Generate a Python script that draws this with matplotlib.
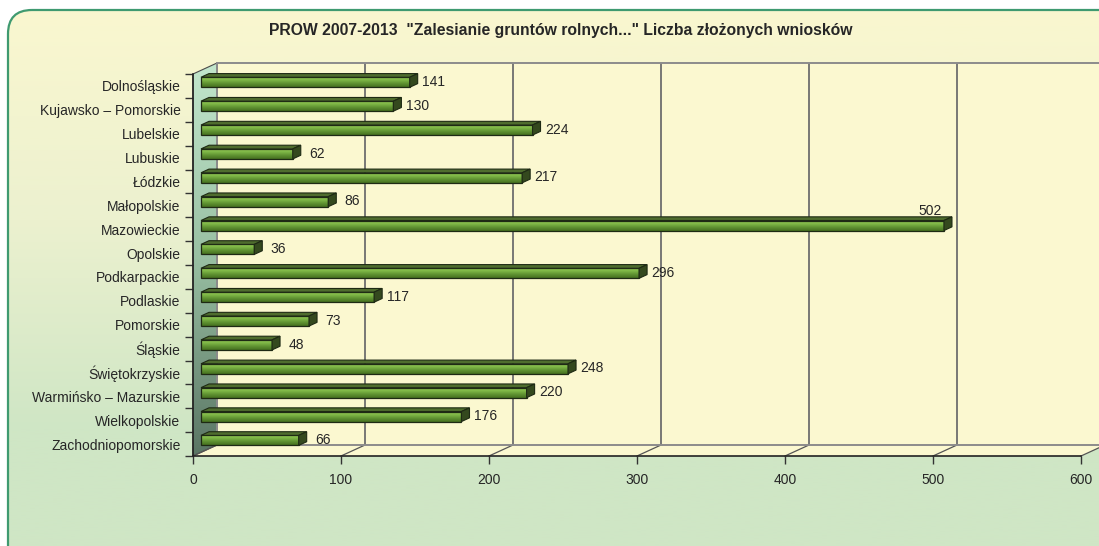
import numpy as np
import matplotlib
matplotlib.use("Agg")
import matplotlib.pyplot as plt
from matplotlib.patches import Polygon, FancyBboxPatch
from matplotlib.transforms import ScaledTranslation, IdentityTransform
from matplotlib.colors import LinearSegmentedColormap

# --- data -------------------------------------------------------------
regions = ["Dolnośląskie", "Kujawsko – Pomorskie", "Lubelskie", "Lubuskie",
           "Łódzkie", "Małopolskie", "Mazowieckie", "Opolskie", "Podkarpackie",
           "Podlaskie", "Pomorskie", "Śląskie", "Świętokrzyskie",
           "Warmińsko – Mazurskie", "Wielkopolskie", "Zachodniopomorskie"]
wnioski = [141, 130, 224, 62, 217, 86, 502, 36, 296, 117, 73, 48, 248, 220, 176, 66]
x_ticks = [0, 100, 200, 300, 400, 500, 600]
title = 'PROW 2007-2013  "Zalesianie gruntów rolnych..." Liczba złożonych wniosków'

plt.rcParams['font.family'] = ['Liberation Sans', 'DejaVu Sans']
FS = 10

W, H, DPI = 1099, 546, 100
L, R, T, B = 193, 1081, 74, 456      # front plane of the plot (pixels)
DX, DY = 24, 11                      # 3d depth offset
TXT = '#262626'

fig = plt.figure(figsize=(W / DPI, H / DPI), dpi=DPI)

# --- background canvas (pixel coords) -------------------------------
bg = fig.add_axes([0, 0, 1, 1], zorder=0)
bg.set_xlim(0, W)
bg.set_ylim(H, 0)
bg.axis('off')

frame = FancyBboxPatch((8, 10), W + 60, H + 60,
                       boxstyle="round,pad=0,rounding_size=24",
                       fc='none', ec='#3f9a70', lw=1.6, zorder=5)
bg.add_patch(frame)
yy = np.linspace(10, H + 70, 400)
grad = np.clip((yy - 10) / 420, 0, 1)[:, None]
cm_bg = LinearSegmentedColormap.from_list('bg', ['#faf7cf', '#ecf1cf', '#cfe6c5'])
im = bg.imshow(grad, cmap=cm_bg, extent=(8, W + 70, H + 70, 10),
               aspect='auto', origin='upper', zorder=1)
im.set_clip_path(frame)

# left side wall
side = Polygon([(L, T), (L + DX, T - DY), (L + DX, B - DY), (L, B)],
               closed=True, fc='none', ec='#4a4a4a', lw=0.8, zorder=3)
bg.add_patch(side)
cm_side = LinearSegmentedColormap.from_list('side', ['#c2e6cc', '#98bfa2', '#5a7564'])
sim = bg.imshow(np.linspace(0, 1, 200)[:, None], cmap=cm_side,
                extent=(L, L + DX, B, T - DY), aspect='auto', zorder=2)
sim.set_clip_path(side)

# floor
floor = Polygon([(L, B), (R, B), (R + DX, B - DY), (L + DX, B - DY)],
                closed=True, fc='#fbf8d0', ec='none', zorder=2)
bg.add_patch(floor)

fig.text(561 / W, 1 - 31 / H, title, ha='center', va='center',
         fontsize=11.3, weight='bold', color=TXT)

# --- back wall -------------------------------------------------------
wall = fig.add_axes([(L + DX) / W, 1 - (B - DY) / H, (R - L) / W, (B - T) / H],
                    zorder=1)
wall.set_facecolor('#fbf8d0')
wall.set_xlim(0, 600)
wall.set_xticks(x_ticks)
wall.set_yticks([])
wall.tick_params(length=0, labelbottom=False)
wall.grid(axis='x', color='#6e6e6e', lw=1.3)
for s in ['top', 'left', 'bottom']:
    wall.spines[s].set_color('#8c8c8c')
    wall.spines[s].set_linewidth(1.4)
wall.spines['right'].set_visible(False)

# --- front plane ---------------------------------------------------
n = len(regions)
ax = fig.add_axes([L / W, 1 - B / H, (R - L) / W, (B - T) / H], zorder=2)
ax.patch.set_alpha(0)
ax.set_xlim(0, 600)
ax.set_ylim(n - 0.5, -0.5)
ax.set_xticks(x_ticks)
ax.set_yticks(range(n))
ax.set_yticklabels(regions)
ax.set_yticks(np.arange(n + 1) - 0.5, minor=True)
ax.tick_params(axis='y', which='major', length=0, pad=9, labelsize=FS,
               labelcolor=TXT)
ax.tick_params(axis='y', which='minor', length=6, width=1, color='#333333')
ax.tick_params(axis='x', length=6, width=1, color='#333333', pad=6,
               labelsize=FS, labelcolor=TXT)
for s in ['top', 'right']:
    ax.spines[s].set_visible(False)
for s in ['left', 'bottom']:
    ax.spines[s].set_color('#222222')
    ax.spines[s].set_linewidth(1.2)

# floor lines from front ticks to back wall
for t in x_ticks:
    x0, y0 = ax.transData.transform((t, n - 0.5))
    bg.plot([x0, x0 + DX], [H - y0, H - y0 - DY], color='#555555', lw=0.9,
            zorder=3)

# --- 3d bars --------------------------------------------------------
bh = 0.42
off = ScaledTranslation(DX / 3 / DPI, DY / 3 / DPI, fig.dpi_scale_trans)
btr = ax.transData + off
cm_bar = LinearSegmentedColormap.from_list('bar', ['#9ccd5c', '#80b947', '#5f9232', '#46711f'])
bars = ax.barh(range(n), wnioski, height=bh, color='none',
               edgecolor='#1e2a14', lw=0.9, zorder=4)
for i, (b, v) in enumerate(zip(bars, wnioski)):
    b.set_transform(btr)
    g = ax.imshow(np.linspace(0, 1, 50)[:, None], cmap=cm_bar, aspect='auto',
                  extent=(0, v, i + bh / 2, i - bh / 2), origin='upper',
                  transform=btr, zorder=3)
    g.set_clip_path(b)
    # top and side faces in display coords
    fl = btr.transform((0, i - bh / 2))
    fr = btr.transform((v, i - bh / 2))
    br = btr.transform((v, i + bh / 2))
    d = np.array([DX / 3, DY / 3])
    top = Polygon([fl, fr, fr + d, fl + d], closed=True, fc='#4f6d2e',
                  ec='#1e2a14', lw=0.8, transform=IdentityTransform(),
                  clip_on=False, zorder=4)
    sidef = Polygon([fr, br, br + d, fr + d], closed=True, fc='#34491e',
                    ec='#1e2a14', lw=0.8, transform=IdentityTransform(),
                    clip_on=False, zorder=4)
    ax.add_patch(top)
    ax.add_patch(sidef)
    if v == max(wnioski):
        ax.annotate(str(v), (v, i), xytext=(-6, 18), textcoords='offset pixels',
                    ha='center', va='center', fontsize=FS, color=TXT)
    else:
        ax.annotate(str(v), (v, i), xytext=(32, 4), textcoords='offset pixels',
                    ha='center', va='center', fontsize=FS, color=TXT)

ax.set_xlim(0, 600)
ax.set_ylim(n - 0.5, -0.5)

fig.savefig('out.png', dpi=DPI)
